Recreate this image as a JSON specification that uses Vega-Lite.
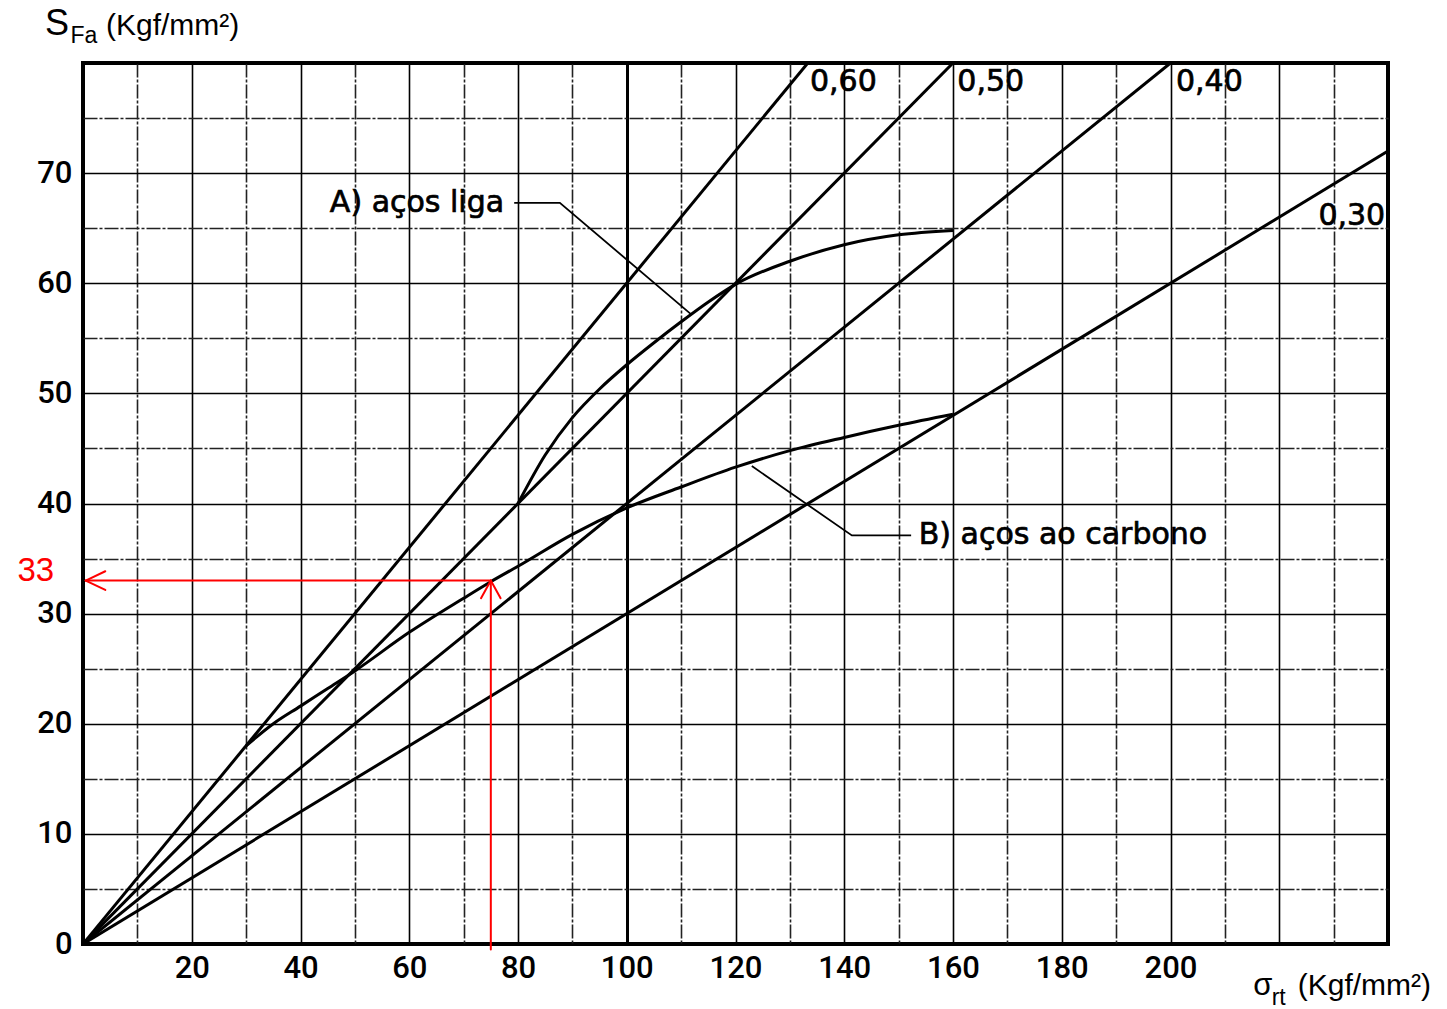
{
  "$schema": "https://vega.github.io/schema/vega-lite/v6.json",
  "width": 1305,
  "height": 881,
  "autosize": "none",
  "padding": {"left": 83, "top": 63, "right": 59, "bottom": 65},
  "background": "white",
  "config": {
    "view": {"stroke": "#000", "strokeWidth": 4},
    "axis": {"title": null}
  },
  "datasets": {
    "ratio": [
      {"k": "0,60", "x": 0, "y": 0, "x2": 133.3, "y2": 80},
      {"k": "0,50", "x": 0, "y": 0, "x2": 160, "y2": 80},
      {"k": "0,40", "x": 0, "y": 0, "x2": 200, "y2": 80},
      {"k": "0,30", "x": 0, "y": 0, "x2": 240, "y2": 72}
    ],
    "curves": [
      {"serie": "A", "x": 80, "y": 40},
      {"serie": "A", "x": 85, "y": 44.4},
      {"serie": "A", "x": 90, "y": 47.8},
      {"serie": "A", "x": 95, "y": 50.4},
      {"serie": "A", "x": 100, "y": 52.6},
      {"serie": "A", "x": 105, "y": 54.6},
      {"serie": "A", "x": 110, "y": 56.5},
      {"serie": "A", "x": 115, "y": 58.3},
      {"serie": "A", "x": 120, "y": 59.9},
      {"serie": "A", "x": 130, "y": 62},
      {"serie": "A", "x": 140, "y": 63.5},
      {"serie": "A", "x": 150, "y": 64.4},
      {"serie": "A", "x": 160, "y": 64.8},
      {"serie": "B", "x": 30, "y": 18},
      {"serie": "B", "x": 35, "y": 20},
      {"serie": "B", "x": 40, "y": 21.6},
      {"serie": "B", "x": 45, "y": 23.2},
      {"serie": "B", "x": 50, "y": 24.8},
      {"serie": "B", "x": 60, "y": 28.3},
      {"serie": "B", "x": 70, "y": 31.4},
      {"serie": "B", "x": 75, "y": 32.9},
      {"serie": "B", "x": 80, "y": 34.3},
      {"serie": "B", "x": 90, "y": 37.2},
      {"serie": "B", "x": 100, "y": 39.6},
      {"serie": "B", "x": 110, "y": 41.5},
      {"serie": "B", "x": 120, "y": 43.3},
      {"serie": "B", "x": 130, "y": 44.8},
      {"serie": "B", "x": 140, "y": 46},
      {"serie": "B", "x": 150, "y": 47.1},
      {"serie": "B", "x": 160, "y": 48.1}
    ],
    "leaders": [
      {"serie": "A", "o": 1, "x": 79.3, "y": 67.3},
      {"serie": "A", "o": 2, "x": 87.7, "y": 67.3},
      {"serie": "A", "o": 3, "x": 111.8, "y": 57.2},
      {"serie": "B", "o": 1, "x": 123, "y": 43.4},
      {"serie": "B", "o": 2, "x": 141.4, "y": 37.1},
      {"serie": "B", "o": 3, "x": 152.3, "y": 37.1}
    ],
    "lettering": [
      {"t": "0,60", "x": 133.7, "y": 78.3},
      {"t": "0,50", "x": 160.8, "y": 78.3},
      {"t": "0,40", "x": 201, "y": 78.3},
      {"t": "0,30", "x": 227.2, "y": 66.1},
      {"t": "A) aços liga", "x": 45.4, "y": 67.3},
      {"t": "B) aços ao carbono", "x": 153.7, "y": 37.1}
    ],
    "titleMain": [
      {"t": "S", "x": -6.99, "y": 82.55}
    ],
    "titleSigma": [
      {"t": "σ", "x": 215.2, "y": -4.63}
    ],
    "titleSub": [
      {"t": "Fa", "x": -2.3, "y": 81.85},
      {"t": "rt", "x": 218.6, "y": -5.54}
    ],
    "titleUnit": [
      {"t": "(Kgf/mm²)", "x": 4.23, "y": 82.55},
      {"t": "(Kgf/mm²)", "x": 223.4, "y": -4.63}
    ],
    "red": [
      {"x": 75, "y": -0.5, "x2": 75, "y2": 33},
      {"x": 75, "y": 33, "x2": 0.5, "y2": 33},
      {"x": 73.2, "y": 31.4, "x2": 75, "y2": 33},
      {"x": 76.8, "y": 31.4, "x2": 75, "y2": 33},
      {"x": 4.1, "y": 33.85, "x2": 0.5, "y2": 33},
      {"x": 4.1, "y": 32.15, "x2": 0.5, "y2": 33}
    ],
    "redText": [
      {"t": "33", "x": -5.3, "y": 33.9}
    ]
  },
  "layer": [
    {
      "data": {"name": "ratio"},
      "mark": {"type": "rule", "color": "#000", "strokeWidth": 3, "clip": true},
      "encoding": {
        "x": {
          "field": "x", "type": "quantitative", "title": null,
          "scale": {"domain": [0, 240], "nice": false, "zero": false},
          "axis": {
            "values": [0,10,20,30,40,50,60,70,80,90,100,110,120,130,140,150,160,170,180,190,200,210,220,230,240],
            "labelExpr": "datum.value >= 20 && datum.value <= 200 && datum.value % 20 === 0 ? datum.label : ''",
            "grid": true,
            "gridColor": {"condition": {"test": "datum.value % 20 !== 0", "value": "#222"}, "value": "#000"},
            "gridWidth": {"condition": {"test": "datum.value === 100", "value": 3}, "value": 1.6},
            "gridDash": {"condition": {"test": "datum.value % 20 !== 0", "value": [14, 2, 3, 2]}, "value": []},
            "domain": false,
            "ticks": false,
            "tickSize": 0,
            "labelPadding": 9,
            "labelFont": "Roboto",
            "labelFontSize": 31,
            "labelFontWeight": 500,
            "labelColor": "#000",
            "labelFlush": false,
            "labelOverlap": false
          }
        },
        "y": {
          "field": "y", "type": "quantitative", "title": null,
          "scale": {"domain": [0, 80], "nice": false, "zero": false},
          "axis": {
            "values": [0,5,10,15,20,25,30,35,40,45,50,55,60,65,70,75,80],
            "labelExpr": "datum.value % 10 === 0 && datum.value < 80 ? datum.label : ''",
            "grid": true,
            "gridColor": {"condition": {"test": "datum.value % 10 !== 0", "value": "#222"}, "value": "#000"},
            "gridWidth": 1.6,
            "gridDash": {"condition": {"test": "datum.value % 10 !== 0", "value": [14, 2, 3, 2]}, "value": []},
            "domain": false,
            "ticks": false,
            "tickSize": 0,
            "labelPadding": 11,
            "labelFont": "Roboto",
            "labelFontSize": 31,
            "labelFontWeight": 500,
            "labelColor": "#000",
            "labelBaseline": "middle",
            "labelFlush": false,
            "labelOverlap": false
          }
        },
        "x2": {"field": "x2"},
        "y2": {"field": "y2"}
      }
    },
    {
      "data": {"name": "curves"},
      "mark": {"type": "line", "color": "#000", "strokeWidth": 3, "interpolate": "monotone"},
      "encoding": {
        "x": {"field": "x", "type": "quantitative", "title": null},
        "y": {"field": "y", "type": "quantitative", "title": null},
        "detail": {"field": "serie"}
      }
    },
    {
      "data": {"name": "leaders"},
      "mark": {"type": "line", "color": "#000", "strokeWidth": 1.8},
      "encoding": {
        "x": {"field": "x", "type": "quantitative", "title": null},
        "y": {"field": "y", "type": "quantitative", "title": null},
        "detail": {"field": "serie"},
        "order": {"field": "o", "type": "quantitative"}
      }
    },
    {
      "data": {"name": "lettering"},
      "mark": {"type": "text", "align": "left", "baseline": "middle", "font": "DejaVu Sans", "fontSize": 30, "color": "#000", "stroke": "#000", "strokeWidth": 0.7},
      "encoding": {
        "x": {"field": "x", "type": "quantitative", "title": null},
        "y": {"field": "y", "type": "quantitative", "title": null},
        "text": {"field": "t"}
      }
    },
    {
      "data": {"name": "titleMain"},
      "mark": {"type": "text", "align": "left", "baseline": "alphabetic", "font": "Liberation Sans", "fontSize": 36, "color": "#000"},
      "encoding": {
        "x": {"field": "x", "type": "quantitative", "title": null},
        "y": {"field": "y", "type": "quantitative", "title": null},
        "text": {"field": "t"}
      }
    },
    {
      "data": {"name": "titleSigma"},
      "mark": {"type": "text", "align": "left", "baseline": "alphabetic", "font": "Liberation Sans", "fontSize": 31, "color": "#000"},
      "encoding": {
        "x": {"field": "x", "type": "quantitative", "title": null},
        "y": {"field": "y", "type": "quantitative", "title": null},
        "text": {"field": "t"}
      }
    },
    {
      "data": {"name": "titleSub"},
      "mark": {"type": "text", "align": "left", "baseline": "alphabetic", "font": "Liberation Sans", "fontSize": 23, "color": "#000"},
      "encoding": {
        "x": {"field": "x", "type": "quantitative", "title": null},
        "y": {"field": "y", "type": "quantitative", "title": null},
        "text": {"field": "t"}
      }
    },
    {
      "data": {"name": "titleUnit"},
      "mark": {"type": "text", "align": "left", "baseline": "alphabetic", "font": "Liberation Sans", "fontSize": 30, "color": "#000"},
      "encoding": {
        "x": {"field": "x", "type": "quantitative", "title": null},
        "y": {"field": "y", "type": "quantitative", "title": null},
        "text": {"field": "t"}
      }
    },
    {
      "data": {"name": "red"},
      "mark": {"type": "rule", "color": "#ff0000", "strokeWidth": 2, "strokeCap": "round"},
      "encoding": {
        "x": {"field": "x", "type": "quantitative", "title": null},
        "y": {"field": "y", "type": "quantitative", "title": null},
        "x2": {"field": "x2"},
        "y2": {"field": "y2"}
      }
    },
    {
      "data": {"name": "redText"},
      "mark": {"type": "text", "align": "right", "baseline": "middle", "font": "Liberation Sans", "fontSize": 33, "color": "#ff0000"},
      "encoding": {
        "x": {"field": "x", "type": "quantitative", "title": null},
        "y": {"field": "y", "type": "quantitative", "title": null},
        "text": {"field": "t"}
      }
    }
  ]
}
